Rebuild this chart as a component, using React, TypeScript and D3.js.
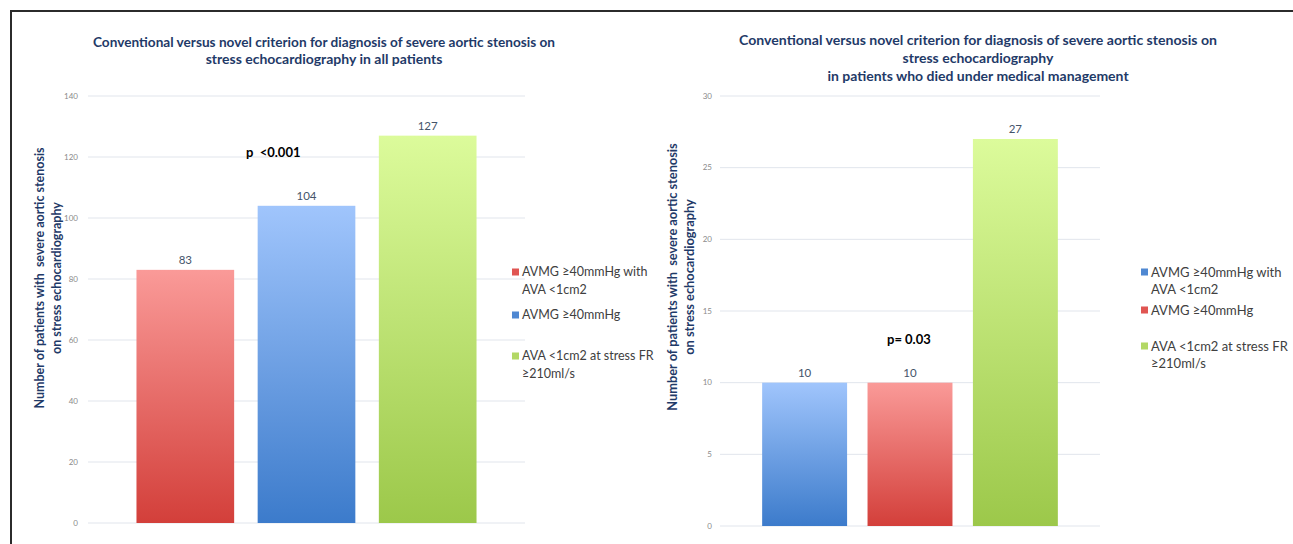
import React, { useEffect } from "react";
import * as d3 from "d3";

// ---------- DATA ----------
const leftCategories = ["AVMG ≥40mmHg with AVA <1cm2", "AVMG ≥40mmHg", "AVA <1cm2 at stress FR ≥210ml/s"];
const leftValues = [83, 104, 127];
const leftColorKeys = ["red", "blue", "green"];
const leftTicks = [0, 20, 40, 60, 80, 100, 120, 140];
const leftLegendLines = [["AVMG ≥40mmHg with", "AVA <1cm2"], ["AVMG ≥40mmHg"], ["AVA <1cm2 at stress FR", "≥210ml/s"]];
const leftTitle = ["Conventional versus novel criterion for diagnosis of severe aortic stenosis on", "stress echocardiography in all patients"];
const leftP = "p  <0.001";

const rightCategories = ["AVMG ≥40mmHg with AVA <1cm2", "AVMG ≥40mmHg", "AVA <1cm2 at stress FR ≥210ml/s"];
const rightValues = [10, 10, 27];
const rightColorKeys = ["blue", "red", "green"];
const rightTicks = [0, 5, 10, 15, 20, 25, 30];
const rightLegendLines = [["AVMG ≥40mmHg with", "AVA <1cm2"], ["AVMG ≥40mmHg"], ["AVA <1cm2 at stress FR", "≥210ml/s"]];
const rightTitle = ["Conventional versus novel criterion for diagnosis of severe aortic stenosis on", "stress echocardiography", "in patients who died under medical management"];
const rightP = "p= 0.03";

const yTitle = ["Number of patients with  severe aortic stenosis", "on stress echocardiography"];

// ---------- STYLE ----------
const palette: Record<string, { top: string; bottom: string; swatch: string }> = {
  red: { top: "#fa9a98", bottom: "#d33f3a", swatch: "#e05552" },
  blue: { top: "#a0c5fc", bottom: "#3c7bcb", swatch: "#4f88d2" },
  green: { top: "#dcfb9b", bottom: "#9cc84a", swatch: "#b3d865" },
};
const FONT = "Lato, 'Open Sans', sans-serif";
const NAVY = "#1f3a68";

type PanelCfg = {
  id: string;
  categories: string[];
  values: number[];
  colorKeys: string[];
  ticks: number[];
  yMax: number;
  yRange: [number, number];
  xRange: [number, number];
  tickX: number;
  titleLines: string[];
  titleX: number;
  titleY: number;
  titleStep: number;
  titleLen: number;
  yTitleX: [number, number];
  yTitleY: number;
  yTitleSize: number;
  legendLines: string[][];
  legendX: number;
  legendY: number[][];
  legendSize: number;
  pText: string;
  pX: number;
  pY: number;
};

const panels: PanelCfg[] = [
  {
    id: "L",
    categories: leftCategories,
    values: leftValues,
    colorKeys: leftColorKeys,
    ticks: leftTicks,
    yMax: 140,
    yRange: [523, 96],
    xRange: [88, 525],
    tickX: 78,
    titleLines: leftTitle,
    titleX: 324,
    titleY: 42,
    titleStep: 17.5,
    titleLen: 462,
    yTitleX: [40, 57],
    yTitleY: 278,
    yTitleSize: 12.5,
    legendLines: leftLegendLines,
    legendX: 512,
    legendY: [[272, 290], [315], [356, 374]],
    legendSize: 12.5,
    pText: leftP,
    pX: 246,
    pY: 152,
  },
  {
    id: "R",
    categories: rightCategories,
    values: rightValues,
    colorKeys: rightColorKeys,
    ticks: rightTicks,
    yMax: 30,
    yRange: [526, 96],
    xRange: [720, 1100],
    tickX: 712,
    titleLines: rightTitle,
    titleX: 978,
    titleY: 40,
    titleStep: 18,
    titleLen: 478,
    yTitleX: [673, 690],
    yTitleY: 277,
    yTitleSize: 12.8,
    legendLines: rightLegendLines,
    legendX: 1141,
    legendY: [[272, 289], [310], [346, 363]],
    legendSize: 13,
    pText: rightP,
    pX: 887,
    pY: 339,
  },
];

function Panel({ cfg }: { cfg: PanelCfg }) {
  const y = d3.scaleLinear().domain([0, cfg.yMax]).range(cfg.yRange);
  const x = d3
    .scaleBand<string>()
    .domain(cfg.categories)
    .range(cfg.xRange)
    .paddingInner(0.194)
    .paddingOuter(0.4);
  const [x0, x1] = cfg.xRange;
  return (
    <g>
      <defs>
        {Object.keys(palette).map((k) => (
          <linearGradient key={k} id={`grad-${cfg.id}-${k}`} x1="0" y1="0" x2="0" y2="1">
            <stop offset="0%" stopColor={palette[k].top} />
            <stop offset="100%" stopColor={palette[k].bottom} />
          </linearGradient>
        ))}
      </defs>
      {/* title */}
      {cfg.titleLines.map((t, i) => (
        <text
          key={i}
          x={cfg.titleX}
          y={cfg.titleY + i * cfg.titleStep}
          dy="0.35em"
          textAnchor="middle"
          fontFamily={FONT}
          fontWeight={700}
          fontSize={14}
          fill={NAVY}
          {...(i === 0 ? { textLength: cfg.titleLen, lengthAdjust: "spacingAndGlyphs" } : {})}
        >
          {t}
        </text>
      ))}
      {/* grid + ticks */}
      {cfg.ticks.map((t) => (
        <g key={t}>
          <line x1={x0} x2={x1} y1={y(t)} y2={y(t)} stroke="#e1e5ec" strokeWidth={1} />
          <text x={cfg.tickX} y={y(t)} dy="0.35em" textAnchor="end" fontFamily={FONT} fontSize={8} fill="#8a8a8a">
            {t}
          </text>
        </g>
      ))}
      {/* bars */}
      {cfg.categories.map((c, i) => (
        <g key={c}>
          <rect
            x={x(c)}
            y={y(cfg.values[i])}
            width={x.bandwidth()}
            height={y(0) - y(cfg.values[i])}
            fill={`url(#grad-${cfg.id}-${cfg.colorKeys[i]})`}
          />
          <text
            x={(x(c) as number) + x.bandwidth() / 2}
            y={y(cfg.values[i]) - 6}
            textAnchor="middle"
            fontFamily={FONT}
            fontSize={11.5}
            fill="#44546a"
          >
            {cfg.values[i]}
          </text>
        </g>
      ))}
      {/* p value */}
      <text
        x={cfg.pX}
        y={cfg.pY}
        dy="0.35em"
        fontFamily={FONT}
        fontWeight={700}
        fontSize={13}
        fill="#000"
        style={{ whiteSpace: "pre" }}
      >
        {cfg.pText}
      </text>
      {/* y title */}
      {yTitle.map((t, i) => (
        <text
          key={i}
          transform={`translate(${cfg.yTitleX[i]},${cfg.yTitleY}) rotate(-90)`}
          dy="0.35em"
          textAnchor="middle"
          fontFamily={FONT}
          fontWeight={700}
          fontSize={cfg.yTitleSize}
          fill={NAVY}
          style={{ whiteSpace: "pre" }}
        >
          {t}
        </text>
      ))}
      {/* legend */}
      {cfg.legendLines.map((lines, i) => (
        <g key={i}>
          <rect
            x={cfg.legendX}
            y={cfg.legendY[i][0] - 3.5}
            width={7}
            height={7}
            fill={palette[cfg.colorKeys[i]].swatch}
          />
          {lines.map((ln, j) => (
            <text
              key={j}
              x={cfg.legendX + 10}
              y={cfg.legendY[i][j]}
              dy="0.35em"
              fontFamily={FONT}
              fontSize={cfg.legendSize}
              fill="#404040"
            >
              {ln}
            </text>
          ))}
        </g>
      ))}
    </g>
  );
}

export default function App() {
  useEffect(() => {
    document.body.style.margin = "0";
  }, []);
  return (
    <svg
      width={1293}
      height={544}
      viewBox="0 0 1293 544"
      style={{ position: "absolute", left: 0, top: 0, background: "#fff", display: "block" }}
    >
      <rect x={0} y={0} width={1293} height={544} fill="#fff" />
      <line x1={10} x2={1293} y1={11} y2={11} stroke="#2b2b2b" strokeWidth={2} />
      <line x1={11} x2={11} y1={10} y2={544} stroke="#2b2b2b" strokeWidth={2} />
      {panels.map((p) => (
        <Panel key={p.id} cfg={p} />
      ))}
    </svg>
  );
}
